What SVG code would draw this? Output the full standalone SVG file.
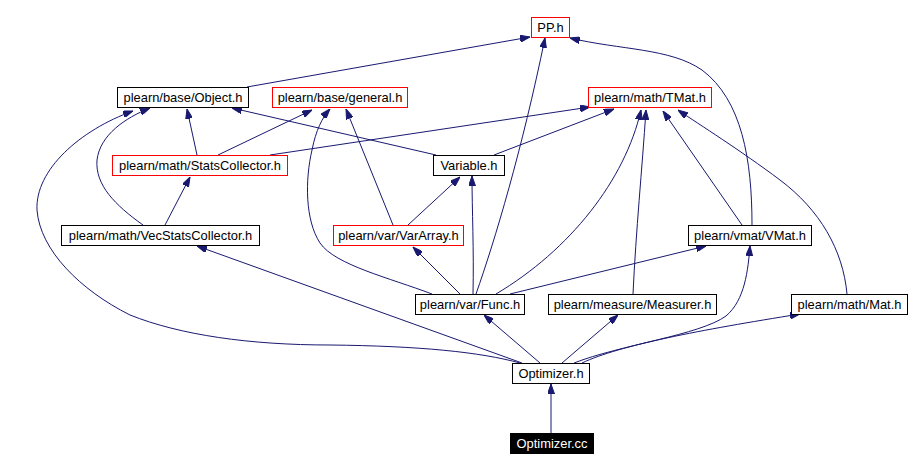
<svg xmlns="http://www.w3.org/2000/svg" width="917" height="470" viewBox="0 0 917 470">
<style>
.n text{font-family:"Liberation Sans",Arial,sans-serif;font-size:12.9px;text-anchor:middle;fill:#000}
.n.d text{fill:#fff}
.e path{fill:none;stroke:#191970;stroke-width:1;marker-end:url(#ah)}
</style>
<defs>
<marker id="ah" viewBox="0 0 10 7" refX="10" refY="3.5" markerWidth="10" markerHeight="7" markerUnits="userSpaceOnUse" orient="auto">
<path d="M0,0 L10,3.5 L0,7 z" fill="#191970" stroke="#191970"/>
</marker>
</defs>
<rect width="917" height="470" fill="#fff"/>
<g id="edges" class="e">
<path d="M551,433 L551,384"/>
<path d="M540,363 L484,315"/>
<path d="M562,363 L618,315"/>
<path d="M582,363 C620,345 700,330 800,314"/>
<path d="M574,363 C620,345 700,335 726,316 C745,300 748,270 750,246"/>
<path d="M522,363 L197,246"/>
<path d="M520,363 C480,352 420,346 330,345 C250,345 180,335 130,315 C80,290 40,250 37,210 C35,170 80,130 133,111"/>
<path d="M460,294 L413,247"/>
<path d="M473,294 C474,250 472,210 472,176"/>
<path d="M476,294 C495,240 522,150 545,38"/>
<path d="M496,294 C570,250 625,180 641,110"/>
<path d="M432,294 C390,278 335,265 320,243 C305,220 305,180 312,150 C316,130 322,118 330,109"/>
<path d="M510,294 L706,246"/>
<path d="M408,225 L460,177"/>
<path d="M393,225 L346,109"/>
<path d="M436,155 L232,108"/>
<path d="M494,155 L614,109"/>
<path d="M197,155 L187,109"/>
<path d="M218,155 L312,110"/>
<path d="M270,155 L590,107"/>
<path d="M165,225 L190,177"/>
<path d="M143,225 C115,205 95,185 97,160 C100,135 125,118 150,108"/>
<path d="M247,87 L530,37"/>
<path d="M752,225 C752,160 742,100 702,70 C670,48 620,50 570,38"/>
<path d="M742,225 L663,111"/>
<path d="M633,294 C636,230 642,170 646,110"/>
<path d="M847,294 C843,250 820,210 780,180 C740,150 700,125 678,110"/>
</g>
<g id="n_pp" class="n"><rect x="531.5" y="17.5" width="38" height="20" fill="#fff" stroke="#ff0000"/><text x="550.5" y="32">PP.h</text></g>
<g id="n_object" class="n"><rect x="117.5" y="87.5" width="131" height="20" fill="#fff" stroke="#000"/><text x="183" y="102">plearn/base/Object.h</text></g>
<g id="n_general" class="n"><rect x="272.5" y="87.5" width="135" height="20" fill="#fff" stroke="#ff0000"/><text x="340" y="102">plearn/base/general.h</text></g>
<g id="n_tmat" class="n"><rect x="588.5" y="87.5" width="123" height="20" fill="#fff" stroke="#ff0000"/><text x="650" y="102">plearn/math/TMat.h</text></g>
<g id="n_stats" class="n"><rect x="112.5" y="155.5" width="175" height="20" fill="#fff" stroke="#ff0000"/><text x="200" y="170">plearn/math/StatsCollector.h</text></g>
<g id="n_variable" class="n"><rect x="433.5" y="155.5" width="71" height="20" fill="#fff" stroke="#000"/><text x="469" y="170">Variable.h</text></g>
<g id="n_vecstats" class="n"><rect x="61.5" y="225.5" width="198" height="20" fill="#fff" stroke="#000"/><text x="160.5" y="240">plearn/math/VecStatsCollector.h</text></g>
<g id="n_vararray" class="n"><rect x="333.5" y="225.5" width="130" height="20" fill="#fff" stroke="#ff0000"/><text x="398.5" y="240">plearn/var/VarArray.h</text></g>
<g id="n_vmat" class="n"><rect x="688.5" y="225.5" width="123" height="20" fill="#fff" stroke="#000"/><text x="750" y="240">plearn/vmat/VMat.h</text></g>
<g id="n_func" class="n"><rect x="415.5" y="294.5" width="109" height="20" fill="#fff" stroke="#000"/><text x="470" y="309">plearn/var/Func.h</text></g>
<g id="n_measurer" class="n"><rect x="548.5" y="294.5" width="168" height="20" fill="#fff" stroke="#000"/><text x="632.5" y="309">plearn/measure/Measurer.h</text></g>
<g id="n_mat" class="n"><rect x="791.5" y="294.5" width="116" height="20" fill="#fff" stroke="#000"/><text x="849.5" y="309">plearn/math/Mat.h</text></g>
<g id="n_optimizer_h" class="n"><rect x="512.5" y="363.5" width="77" height="20" fill="#fff" stroke="#000"/><text x="551" y="378">Optimizer.h</text></g>
<g id="n_optimizer_cc" class="n d"><rect x="510.5" y="433.5" width="83" height="20" fill="#000" stroke="#000"/><text x="552" y="448">Optimizer.cc</text></g>
</svg>
